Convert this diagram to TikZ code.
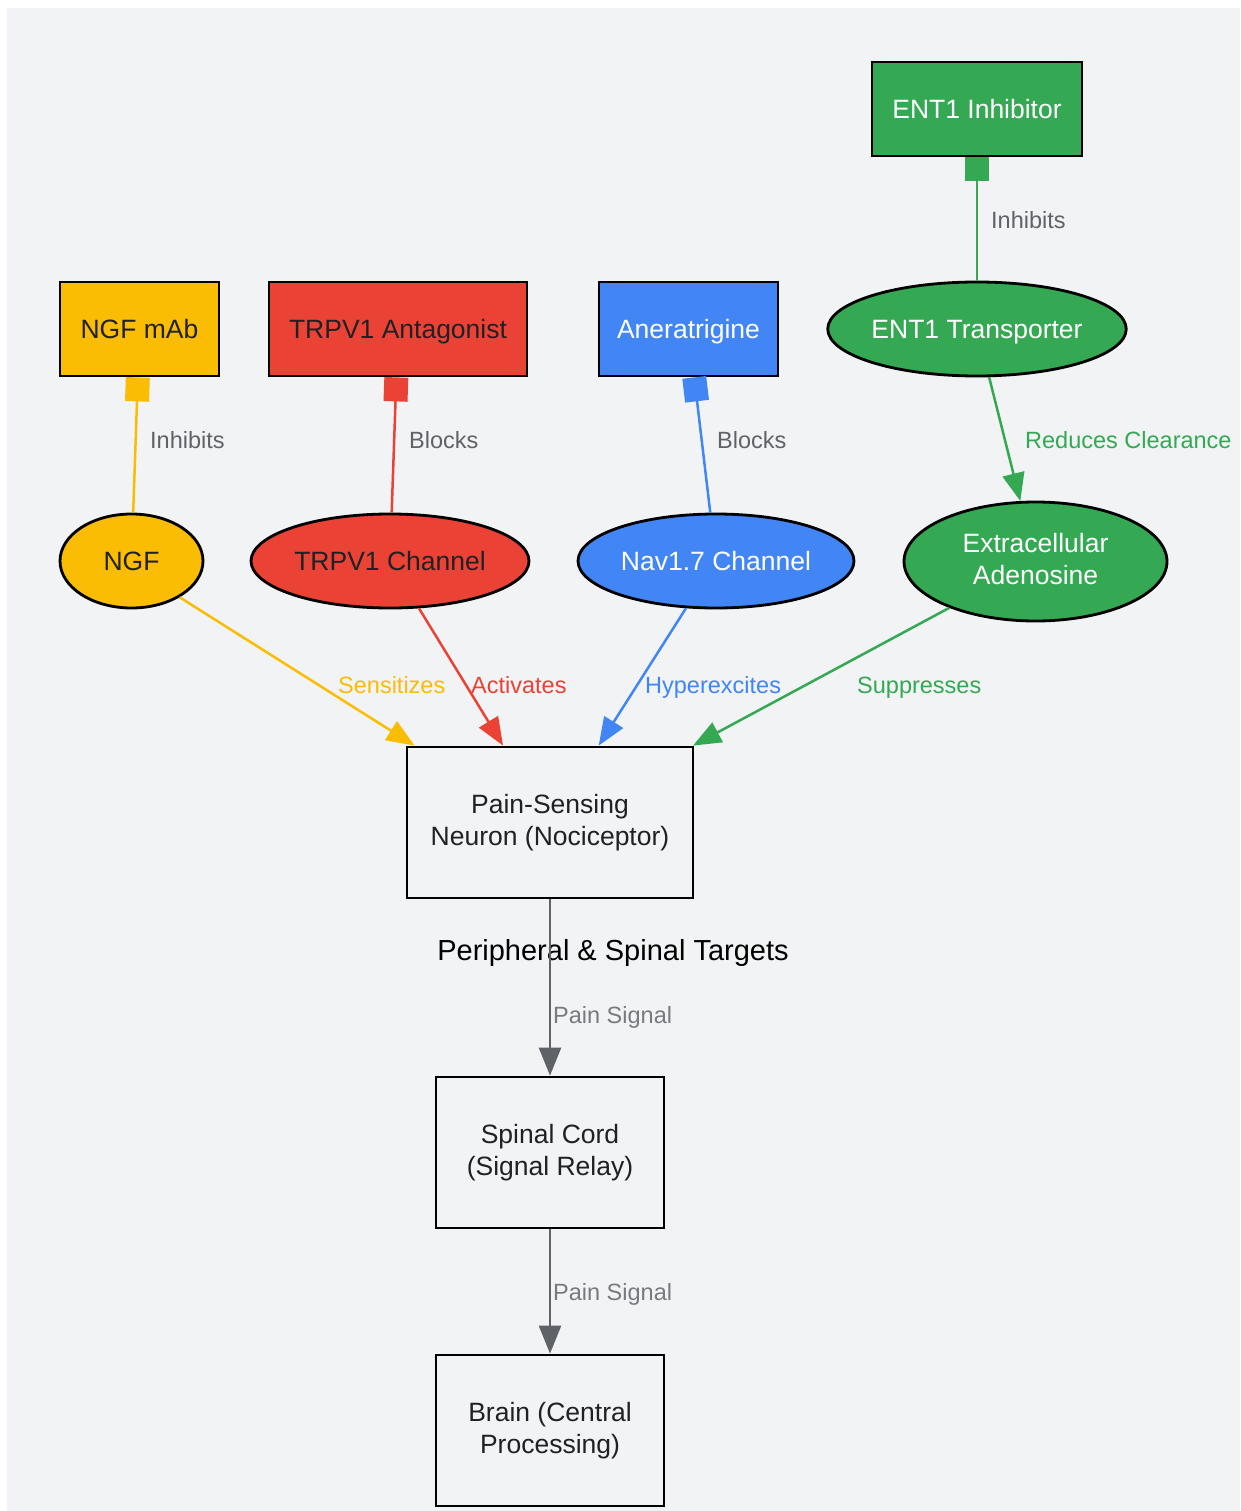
\documentclass[tikz,border=0pt]{standalone}
\usepackage{fontspec}
\setmainfont{Liberation Sans}
\usetikzlibrary{shapes.geometric,arrows.meta}
\definecolor{cY}{HTML}{FBBC04}
\definecolor{cR}{HTML}{EA4335}
\definecolor{cB}{HTML}{4285F4}
\definecolor{cG}{HTML}{34A853}
\definecolor{cGr}{HTML}{5F6368}
\definecolor{cBg}{HTML}{F1F3F4}
\definecolor{cT}{HTML}{202124}
\begin{document}
\begin{tikzpicture}[x=1pt,y=-1pt,
  txtfix/.style={execute at begin node={\rule[-5.6pt]{0pt}{29.6pt}},
    execute at end node={\rule[-5.6pt]{0pt}{0pt}}},
  rbox/.style={rectangle, draw=black, line width=2.8pt, inner sep=0pt, align=center,
    minimum height=94pt, font=\fontsize{26.5}{32}\selectfont, txtfix},
  ell/.style={ellipse, draw=black, line width=2.8pt, inner sep=0pt, align=center,
    minimum height=94pt, font=\fontsize{26.5}{32}\selectfont, txtfix},
  lbl/.style={anchor=west, inner sep=0pt, font=\fontsize{23.5}{28}\selectfont,
    text height=21.3pt, text depth=5pt},
  inh/.style={line width=2.5pt, {Square[length=24pt,width=24pt]}-},
  act/.style={line width=2.5pt, -{Triangle[length=28pt,width=22pt]}}]
\useasboundingbox (0,0) rectangle (1240,1511);
\fill[cBg] (7,8) rectangle (1240,1511);

% nodes
\node[rbox, fill=cY, text=cT, minimum width=159pt] (ngfmab) at (139.5,329) {NGF mAb};
\node[rbox, fill=cR, text=cT, minimum width=258pt] (trpa) at (398,329) {TRPV1 Antagonist};
\node[rbox, fill=cB, text=white, minimum width=179pt] (aner) at (688.5,329) {Aneratrigine};
\node[rbox, fill=cG, text=white, minimum width=210pt] (entinh) at (977,109) {ENT1 Inhibitor};
\node[ell, fill=cG, text=white, minimum width=298pt] (entt) at (977,329) {ENT1 Transporter};
\node[ell, fill=cY, text=cT, minimum width=143pt] (ngf) at (131.5,561) {NGF};
\node[ell, fill=cR, text=cT, minimum width=278pt] (trpc) at (390,561) {TRPV1 Channel};
\node[ell, fill=cB, text=white, minimum width=276pt] (nav) at (716,561) {Nav1.7 Channel};
\node[ell, fill=cG, text=white, minimum width=263pt, minimum height=119pt] (ado) at (1035.5,561.5) {Extracellular\\Adenosine};
\node[rbox, fill=cBg, text=cT, minimum width=286pt, minimum height=151pt] (neuron) at (550,822.5) {Pain-Sensing\\Neuron (Nociceptor)};
\node[rbox, fill=cBg, text=cT, minimum width=228pt, minimum height=151pt] (spinal) at (550,1152.5) {Spinal Cord\\(Signal Relay)};
\node[rbox, fill=cBg, text=cT, minimum width=228pt, minimum height=151pt] (brain) at (550,1430.5) {Brain (Central\\Processing)};

\node[inner sep=0pt, text=black, font=\fontsize{29}{34}\selectfont,
  text height=26.2pt, text depth=6.1pt] (title) at (613,950) {Peripheral \& Spinal Targets};

% connectors
\draw[inh, color=cY] (ngfmab) -- (ngf);
\draw[inh, color=cR] (trpa) -- (trpc);
\draw[inh, color=cB] (aner) -- (nav);
\draw[inh, color=cG] (entinh) -- (entt);
\draw[act, color=cG] (entt) -- (ado);
\draw[act, color=cY] (ngf.-37) -- ([xshift=9pt]neuron.north west);
\draw[act, color=cR] (trpc) -- (neuron);
\draw[act, color=cB] (nav) -- (neuron);
\draw[act, color=cG] (ado) -- (neuron);
\draw[act, color=cGr] (neuron) -- (spinal);
\draw[act, color=cGr] (spinal) -- (brain);

% labels
\node[lbl, text=cGr] (l1) at (150,440) {Inhibits};
\node[lbl, text=cGr] (l2) at (409,440) {Blocks};
\node[lbl, text=cGr] (l3) at (717,440) {Blocks};
\node[lbl, text=cGr] (l4) at (991,220) {Inhibits};
\node[lbl, text=cG] (l5) at (1025,440) {Reduces Clearance};
\node[lbl, text=cY] (l6) at (338,685) {Sensitizes};
\node[lbl, text=cR] (l7) at (471,685) {Activates};
\node[lbl, text=cB] (l8) at (645,685) {Hyperexcites};
\node[lbl, text=cG] (l9) at (857,685) {Suppresses};
\node[lbl, text=cGr!85!white] (l10) at (553,1015) {Pain Signal};
\node[lbl, text=cGr!85!white] (l11) at (553,1292) {Pain Signal};
\end{tikzpicture}
\end{document}
